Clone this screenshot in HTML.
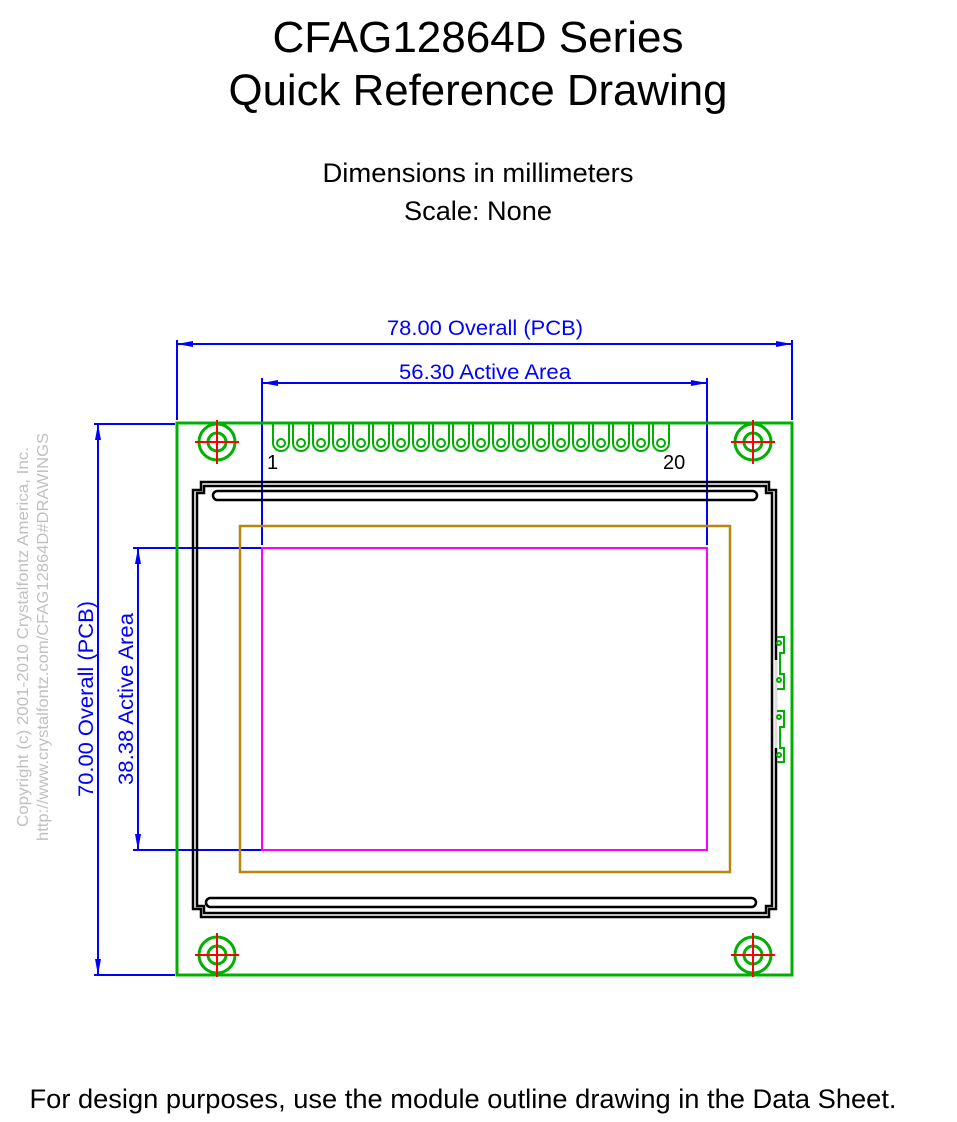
<!DOCTYPE html>
<html><head><meta charset="utf-8"><style>
html,body{margin:0;padding:0;background:#fff;}
svg{display:block;}
text{font-family:"Liberation Sans",Arial,sans-serif;}
</style></head><body>
<svg width="957" height="1122" viewBox="0 0 957 1122" xmlns="http://www.w3.org/2000/svg">
<text x="478" y="52" font-size="44" text-anchor="middle" textLength="411" lengthAdjust="spacingAndGlyphs">CFAG12864D Series</text>
<text x="478" y="105" font-size="44" text-anchor="middle" textLength="499" lengthAdjust="spacingAndGlyphs">Quick Reference Drawing</text>
<text x="478" y="182" font-size="27" text-anchor="middle" textLength="311" lengthAdjust="spacingAndGlyphs">Dimensions in millimeters</text>
<text x="478" y="220" font-size="27" text-anchor="middle" textLength="148" lengthAdjust="spacingAndGlyphs">Scale: None</text>
<text x="463" y="1108" font-size="27" text-anchor="middle" textLength="867" lengthAdjust="spacingAndGlyphs">For design purposes, use the module outline drawing in the Data Sheet.</text>

<g fill="#c0c0c0" font-size="16">
<text transform="translate(28,637) rotate(-90)" text-anchor="middle" textLength="380" lengthAdjust="spacingAndGlyphs">Copyright (c) 2001-2010 Crystalfontz America, Inc.</text>
<text transform="translate(48,637) rotate(-90)" text-anchor="middle" textLength="408" lengthAdjust="spacingAndGlyphs">http://www.crystalfontz.com/CFAG12864D#DRAWINGS</text>
</g>

<g stroke="#0000ff" stroke-width="2" fill="none">
<line x1="177" y1="340" x2="177" y2="420"/><line x1="792" y1="340" x2="792" y2="420"/>
<line x1="177" y1="344" x2="792" y2="344"/>
<line x1="262" y1="378" x2="262" y2="545"/><line x1="707" y1="378" x2="707" y2="545"/>
<line x1="262" y1="383" x2="707" y2="383"/>
<line x1="94" y1="424" x2="175" y2="424"/><line x1="94" y1="975" x2="175" y2="975"/>
<line x1="98" y1="424" x2="98" y2="975"/>
<line x1="133" y1="548" x2="262" y2="548"/><line x1="133" y1="850" x2="262" y2="850"/>
<line x1="138" y1="548" x2="138" y2="850"/>
</g>
<g fill="#0000ff">
<polygon points="177,344 193,341 193,347"/><polygon points="792,344 776,341 776,347"/>
<polygon points="262,383 278,380 278,386"/><polygon points="707,383 691,380 691,386"/>
<polygon points="98,424 95,440 101,440"/><polygon points="98,975 95,959 101,959"/>
<polygon points="138,548 135,564 141,564"/><polygon points="138,850 135,834 141,834"/>
</g>
<g fill="#0000ff" font-size="21">
<text x="485" y="335" text-anchor="middle" textLength="196" lengthAdjust="spacingAndGlyphs">78.00 Overall (PCB)</text>
<text x="485" y="379" text-anchor="middle" textLength="172" lengthAdjust="spacingAndGlyphs">56.30 Active Area</text>
<text transform="translate(93,699) rotate(-90)" text-anchor="middle" textLength="196" lengthAdjust="spacingAndGlyphs">70.00 Overall (PCB)</text>
<text transform="translate(133,699) rotate(-90)" text-anchor="middle" textLength="172" lengthAdjust="spacingAndGlyphs">38.38 Active Area</text>
</g>

<rect x="177" y="423" width="615" height="552" fill="none" stroke="#00b000" stroke-width="3"/>

<g fill="none" stroke="#000" stroke-width="2.5">
<path d="M201,482 H769 V490 H776 V909 H769 V917 H201 V909 H193 V490 H201 Z"/>
<path d="M204,486 H766 V493 H772 V906 H766 V913 H204 V906 H197 V493 H204 Z"/>
<rect x="213" y="491" width="544" height="9" rx="4.5"/>
<rect x="206" y="898" width="550" height="9" rx="4.5"/>
</g>
<line x1="776" y1="660" x2="776" y2="748" stroke="#ddd" stroke-width="3"/>

<rect x="240" y="526" width="490" height="346" fill="none" stroke="#b8860b" stroke-width="2.5"/>
<rect x="262" y="548" width="445" height="302" fill="none" stroke="#ff00ff" stroke-width="2"/>

<g fill="none" stroke="#00b000" stroke-width="2">
<g id="p"><path d="M273,424 V443 A8,8 0 0 0 289,443 V424"/><circle cx="281" cy="443" r="4"/></g>
<use href="#p" x="20"/><use href="#p" x="40"/><use href="#p" x="60"/><use href="#p" x="80"/>
<use href="#p" x="100"/><use href="#p" x="120"/><use href="#p" x="140"/><use href="#p" x="160"/>
<use href="#p" x="180"/><use href="#p" x="200"/><use href="#p" x="220"/><use href="#p" x="240"/>
<use href="#p" x="260"/><use href="#p" x="280"/><use href="#p" x="300"/><use href="#p" x="320"/>
<use href="#p" x="340"/><use href="#p" x="360"/><use href="#p" x="380"/>
</g>
<text x="267" y="469" font-size="20">1</text>
<text x="663" y="469" font-size="20">20</text>

<g fill="none" stroke="#00b000" stroke-width="2">
<path d="M777,637 H784 V653 H780 V674 H784 V689 H777"/>
<path d="M777,711 H784 V727 H780 V748 H784 V762 H777"/>
<circle cx="779" cy="643" r="2"/><circle cx="779" cy="680" r="2"/>
<circle cx="779" cy="717" r="2"/><circle cx="779" cy="755" r="2"/>
</g>

<g id="h">
<circle cx="217" cy="442" r="18" fill="none" stroke="#00b000" stroke-width="3"/>
<circle cx="217" cy="442" r="9" fill="none" stroke="#00b000" stroke-width="3"/>
<line x1="195" y1="442" x2="239" y2="442" stroke="#ff0000" stroke-width="2"/>
<line x1="217" y1="420" x2="217" y2="464" stroke="#ff0000" stroke-width="2"/>
</g>
<use href="#h" x="536"/>
<use href="#h" y="513"/>
<use href="#h" x="536" y="513"/>
</svg>
</body></html>
